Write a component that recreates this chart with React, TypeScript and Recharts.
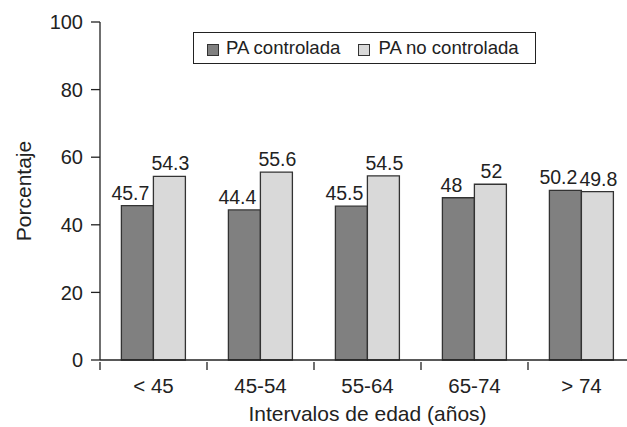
import React from "react";
import { BarChart, Bar, XAxis, YAxis, Legend, LabelList } from "recharts";

const categories = ["< 45", "45-54", "55-64", "65-74", "> 74"];
const controlada = [45.7, 44.4, 45.5, 48, 50.2];
const noControlada = [54.3, 55.6, 54.5, 52, 49.8];
const yTicks = [0, 20, 40, 60, 80, 100];
const seriesNames = ["PA controlada", "PA no controlada"];

const data = categories.map((c, i) => ({
  cat: c,
  a: controlada[i],
  b: noControlada[i],
}));

const FONT = "'Liberation Sans', Arial, sans-serif";
const INK = "#222";
const DARK = "#808080";
const LIGHT = "#d9d9d9";
const EDGE = "#333";

const CW = 640;
const CH = 427;
const M = { top: 22, right: 5, left: 0, bottom: 0 };
const YW = 100;

const XTick = (props: any) => {
  const { x, y, payload } = props;
  const half =
    payload && typeof payload.offset === "number" && payload.offset > 0
      ? payload.offset
      : (CW - M.left - M.right - YW) / categories.length / 2;
  return (
    <g>
      <line x1={x - half} x2={x - half} y1={y - 9} y2={y - 1} stroke={INK} strokeWidth={1.3} />
      <text x={x} y={y + 7} dy="0.71em" textAnchor="middle" fontSize={20.5} fill={INK} fontFamily={FONT}>
        {payload.value}
      </text>
    </g>
  );
};

const LegendBox = () => (
  <div
    style={{
      boxSizing: "border-box",
      width: 343,
      height: 32,
      border: `1px solid ${INK}`,
      background: "#fff",
      display: "flex",
      alignItems: "center",
      paddingLeft: 13,
      fontFamily: FONT,
      fontSize: 18.6,
      color: INK,
      whiteSpace: "nowrap",
    }}
  >
    {seriesNames.map((n, i) => (
      <div key={n} style={{ display: "flex", alignItems: "center", marginRight: i === 0 ? 18 : 0 }}>
        <span
          style={{
            boxSizing: "border-box",
            width: 12,
            height: 12,
            marginTop: 3,
            background: i === 0 ? DARK : LIGHT,
            border: `1px solid ${EDGE}`,
            marginRight: i === 0 ? 7 : 8,
            display: "inline-block",
          }}
        />
        <span>{n}</span>
      </div>
    ))}
  </div>
);

export default function App() {
  return (
    <div style={{ position: "fixed", left: 0, top: 0, width: 627, height: 427, overflow: "hidden", background: "#fff" }}>
      <BarChart
        width={CW}
        height={CH}
        data={data}
        margin={M}
        barCategoryGap="20%"
        barGap={0}
      >
        <YAxis
          width={YW}
          domain={[0, 100]}
          ticks={yTicks}
          interval={0}
          tickSize={9}
          tickMargin={8}
          axisLine={{ stroke: INK, strokeWidth: 1.3 }}
          tickLine={{ stroke: INK, strokeWidth: 1.3 }}
          tick={{ fontSize: 20, fill: INK, fontFamily: FONT }}
          label={({ viewBox }: any) => (
            <text
              x={viewBox.x + 23}
              y={viewBox.y + viewBox.height / 2}
              transform={`rotate(-90, ${viewBox.x + 23}, ${viewBox.y + viewBox.height / 2})`}
              textAnchor="middle"
              dominantBaseline="central"
              fontSize={21}
              fill={INK}
              fontFamily={FONT}
            >
              Porcentaje
            </text>
          )}
        />
        <XAxis
          dataKey="cat"
          height={67}
          interval={0}
          tickSize={9}
          tickLine={false}
          axisLine={{ stroke: INK, strokeWidth: 1.3 }}
          tick={<XTick />}
          label={({ viewBox }: any) => (
            <text
              x={viewBox.x + viewBox.width / 2}
              y={viewBox.y + 61}
              textAnchor="middle"
              fontSize={21}
              fill={INK}
              fontFamily={FONT}
            >
              Intervalos de edad (años)
            </text>
          )}
        />
        <Legend
          layout="horizontal"
          verticalAlign="middle"
          align="center"
          wrapperStyle={{ top: 32, left: 193, width: 343, height: 32 }}
          content={() => <LegendBox />}
        />
        <Bar dataKey="a" name={seriesNames[0]} fill={DARK} stroke={EDGE} strokeWidth={1.3} isAnimationActive={false}>
          <LabelList dataKey="a" position="top" offset={6} dx={-7} fontSize={19.5} fill={INK} fontFamily={FONT} />
        </Bar>
        <Bar dataKey="b" name={seriesNames[1]} fill={LIGHT} stroke={EDGE} strokeWidth={1.3} isAnimationActive={false}>
          <LabelList dataKey="b" position="top" offset={6} dx={1} fontSize={19.5} fill={INK} fontFamily={FONT} />
        </Bar>
      </BarChart>
    </div>
  );
}
